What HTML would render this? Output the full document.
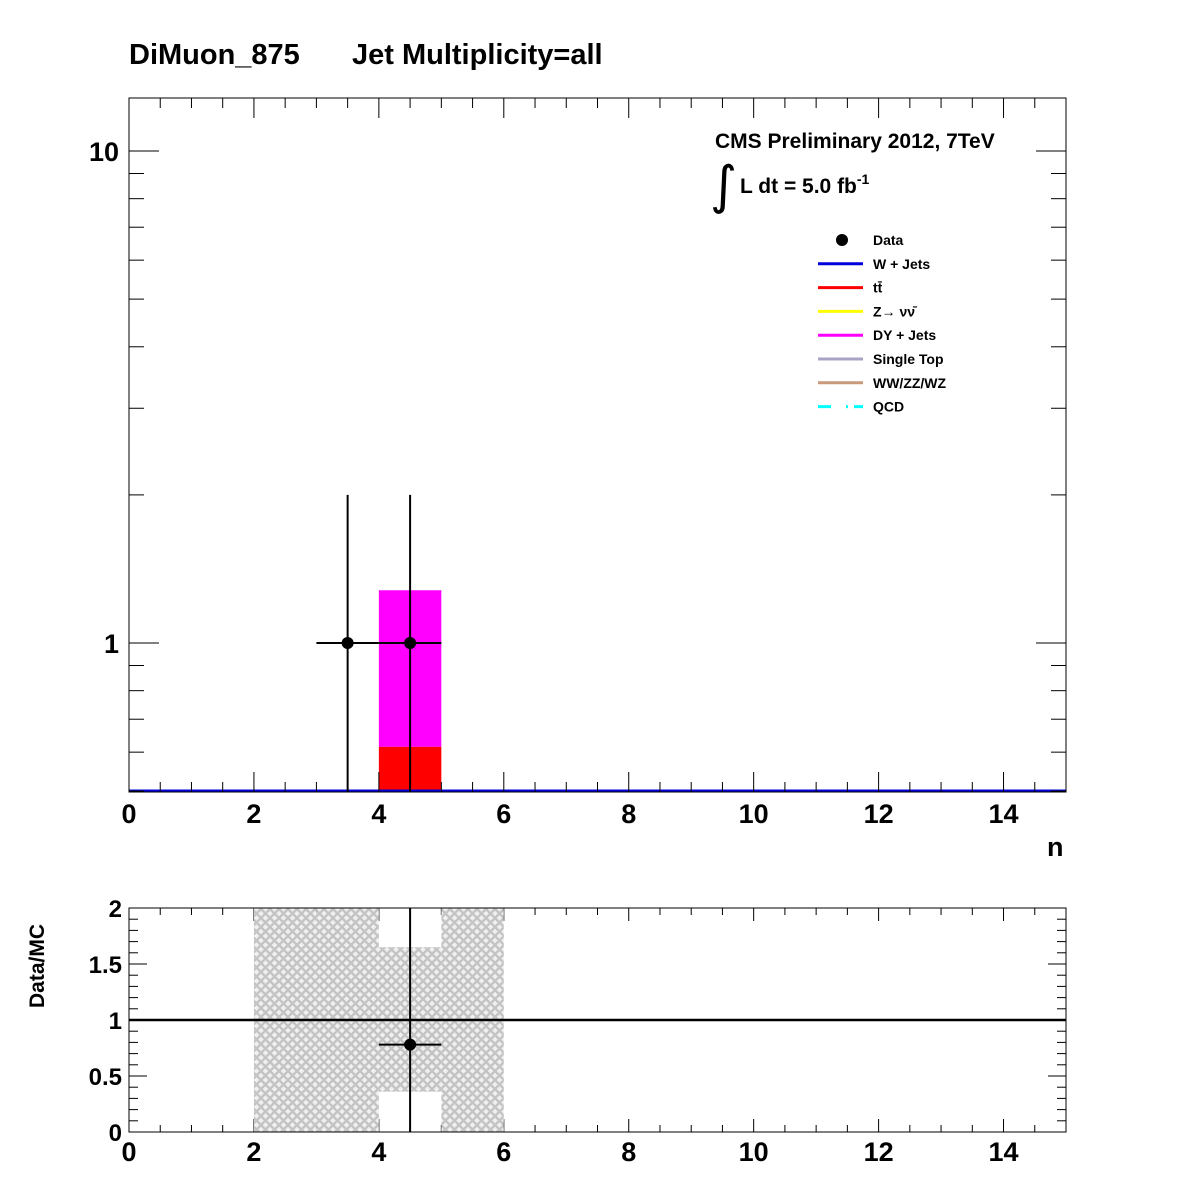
<!DOCTYPE html>
<html><head><meta charset="utf-8"><style>
body{margin:0;background:#fff}
svg text{font-family:"Liberation Sans",Arial,sans-serif;font-weight:bold}
</style></head><body>
<svg id="c" width="1196" height="1172" xmlns="http://www.w3.org/2000/svg">
<defs><pattern id="hatch" width="9" height="9" patternUnits="userSpaceOnUse">
<rect width="9" height="9" fill="#f0f0f0"/><path d="M0,0L9,9M9,0L0,9" stroke="#c4c4c4" stroke-width="2.4"/></pattern></defs>
<text x="129" y="64" font-size="29">DiMuon_875</text>
<text x="352" y="64" font-size="29">Jet Multiplicity=all</text>
<text x="715" y="148" font-size="21">CMS Preliminary 2012, 7TeV</text>
<text x="710" y="203" font-size="52" style="font-weight:normal;font-family:'DejaVu Sans',sans-serif">∫</text>
<text x="740" y="193" font-size="21">L dt = 5.0 fb<tspan dy="-9" font-size="14">-1</tspan></text>
<g id="legend"></g>
<g id="main"></g><g id="ratio"></g>
<text x="1047" y="856" font-size="27">n</text>
<text transform="translate(44,1008) rotate(-90)" font-size="21">Data/MC</text>
</svg>
<script>
const binEdges=[0,1,2,3,4,5,6,7,8,9,10,11,12,13,14,15];
const dataX=[3.5,4.5];
const dataY=[1,1];
const dataErrUp=[2.0,2.0];
const ttbar=[0,0,0,0,0.615,0,0,0,0,0,0,0,0,0,0];
const dyjets=[0,0,0,0,0.665,0,0,0,0,0,0,0,0,0,0];
const ratioX=[4.5];
const ratioY=[0.78];
const bandLo=[0,0,0,0,0.36,0,0,0,0,0,0,0,0,0,0];
const bandHi=[0,0,2,2,1.65,2,0,0,0,0,0,0,0,0,0];
const bandOn=[0,0,1,1,1,1,0,0,0,0,0,0,0,0,0];
const xTicks=[0,2,4,6,8,10,12,14];
const ratioTicks=[0,0.5,1,1.5,2];
const ratioTickLabels=["0","0.5","1","1.5","2"];
const legendNames=["Data","W + Jets","tt̄","Z→ νν̄","DY + Jets","Single Top","WW/ZZ/WZ","QCD"];
const legendColors=["#000","#0000dd","#ff0000","#ffff00","#ff00ff","#a8a4c4","#c99a7a","#00ffff"];

const NS="http://www.w3.org/2000/svg";
const X0=129,X1=1066,MT=98,MB=792,RT=908,RB=1132;
const yMin=0.4985,yMax=12.8;
const sx=v=>X0+(X1-X0)*v/15;
const sy=v=>643-492*Math.log10(v);
const ry=v=>RB-(RB-RT)*v/2;
function el(p,t,a,name,txt){const e=document.createElementNS(NS,t);for(const k in a)e.setAttribute(k,a[k]);


if(txt!==undefined)e.textContent=txt;p.appendChild(e);return e;}
const M=document.getElementById('main'),R=document.getElementById('ratio'),L=document.getElementById('legend');
for(let i=0;i<15;i++){
 const t=ttbar[i],d=dyjets[i];if(t+d<=0)continue;
 const x=sx(binEdges[i]),w=sx(binEdges[i+1])-x;
 el(M,'rect',{x:x,y:sy(t+d),width:w,height:sy(t)-sy(t+d),fill:'#ff00ff'},'dy-jets-bar');
 el(M,'rect',{x:x,y:sy(t),width:w,height:MB-sy(t),fill:'#ff0000'},'ttbar-bar');
}
el(M,'line',{x1:X0,x2:X1,y1:MB-1,y2:MB-1,stroke:'#0000dd','stroke-width':3},'w-jets-line');
el(M,'rect',{x:X0,y:MT,width:X1-X0,height:MB-MT,fill:'none',stroke:'#000','stroke-width':1},'main-frame');
for(let v=0;v<=15;v+=0.5){const maj=v%2===0,len=maj?20:10;
 el(M,'line',{x1:sx(v),x2:sx(v),y1:MB,y2:MB-len,stroke:'#000'},'x-tick');
 el(M,'line',{x1:sx(v),x2:sx(v),y1:MT,y2:MT+len,stroke:'#000'},'x-tick-top');
 el(R,'line',{x1:sx(v),x2:sx(v),y1:RB,y2:RB-(maj?13:7),stroke:'#000'},'ratio-x-tick');
 el(R,'line',{x1:sx(v),x2:sx(v),y1:RT,y2:RT+(maj?13:7),stroke:'#000'},'ratio-x-tick-top');}
xTicks.forEach(v=>{el(M,'text',{x:sx(v),y:823,'font-size':27,'text-anchor':'middle'},'x-tick-label',String(v));
 el(R,'text',{x:sx(v),y:1161,'font-size':27,'text-anchor':'middle'},'ratio-x-tick-label',String(v));});
[0.5,0.6,0.7,0.8,0.9,1,2,3,4,5,6,7,8,9,10].forEach(v=>{if(v<yMin)return;const maj=(v===1||v===10),len=maj?30:15;
 el(M,'line',{x1:X0,x2:X0+len,y1:sy(v),y2:sy(v),stroke:'#000'},'y-tick');
 el(M,'line',{x1:X1,x2:X1-len,y1:sy(v),y2:sy(v),stroke:'#000'},'y-tick-right');});
[1,10].forEach(v=>el(M,'text',{x:119,y:sy(v)+10,'font-size':27,'text-anchor':'end'},'y-tick-label',String(v)));
dataX.forEach((x,i)=>{const y=dataY[i];
 el(M,'line',{x1:sx(x),x2:sx(x),y1:sy(dataErrUp[i]),y2:MB,stroke:'#000','stroke-width':2},'data-error-bar');
 el(M,'line',{x1:sx(x-0.5),x2:sx(x+0.5),y1:sy(y),y2:sy(y),stroke:'#000','stroke-width':2},'data-x-bar');
 el(M,'circle',{cx:sx(x),cy:sy(y),r:6,fill:'#000'},'data-point');});
for(let i=0;i<15;i++){if(!bandOn[i])continue;const x=sx(binEdges[i]),w=sx(binEdges[i+1])-x;
 el(R,'rect',{x:x,y:ry(bandHi[i]),width:w,height:ry(bandLo[i])-ry(bandHi[i]),fill:'url(#hatch)'},'mc-uncertainty-band');}
el(R,'line',{x1:X0,x2:X1,y1:ry(1),y2:ry(1),stroke:'#000','stroke-width':2.5},'unity-line');
el(R,'rect',{x:X0,y:RT,width:X1-X0,height:RB-RT,fill:'none',stroke:'#000'},'ratio-frame');
for(let k=0;k<=20;k++){const v=k/10,maj=k%5===0,len=maj?18:9;
 el(R,'line',{x1:X0,x2:X0+len,y1:ry(v),y2:ry(v),stroke:'#000'},'ratio-y-tick');
 el(R,'line',{x1:X1,x2:X1-len,y1:ry(v),y2:ry(v),stroke:'#000'},'ratio-y-tick-right');}
ratioTicks.forEach((v,i)=>el(R,'text',{x:122,y:ry(v)+9,'font-size':24,'text-anchor':'end'},'ratio-y-tick-label',ratioTickLabels[i]));
ratioX.forEach((x,i)=>{
 el(R,'line',{x1:sx(x),x2:sx(x),y1:RT,y2:RB,stroke:'#000','stroke-width':2},'ratio-error-bar');
 el(R,'line',{x1:sx(x-0.5),x2:sx(x+0.5),y1:ry(ratioY[i]),y2:ry(ratioY[i]),stroke:'#000','stroke-width':2},'ratio-x-bar');
 el(R,'circle',{cx:sx(x),cy:ry(ratioY[i]),r:6,fill:'#000'},'ratio-point');});
legendNames.forEach((n,i)=>{const y=240+i*23.8;
 if(i===0)el(L,'circle',{cx:842,cy:y,r:6,fill:'#000'},'legend-marker-data');
 else if(n==='QCD')el(L,'line',{x1:818,x2:863,y1:y,y2:y,stroke:legendColors[i],'stroke-width':3,'stroke-dasharray':'13,15,2,6'},'legend-line-qcd');
 else el(L,'line',{x1:818,x2:863,y1:y,y2:y,stroke:legendColors[i],'stroke-width':3},'legend-line');
 el(L,'text',{x:873,y:y+5,'font-size':14},'legend-entry',n);});
</script>
</body></html>
